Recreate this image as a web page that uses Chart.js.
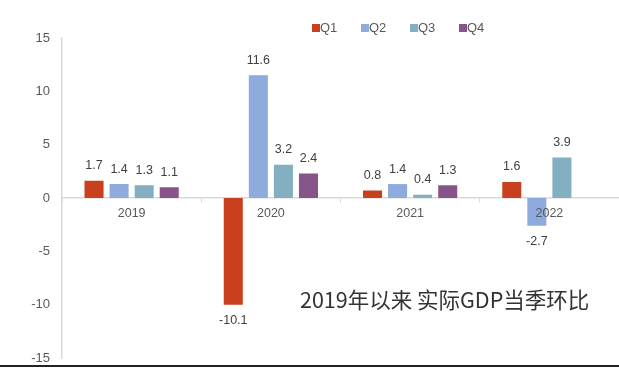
<!DOCTYPE html>
<html>
<head>
<meta charset="utf-8">
<script src="https://cdn.jsdelivr.net/npm/chart.js@4.4.0/dist/chart.umd.min.js"></script>
<style>
  html, body { margin: 0; padding: 0; background: #fff; }
  #wrap { width: 619px; height: 368px; position: relative; }
</style>
</head>
<body>
<div id="wrap"><canvas id="grafico"></canvas></div>
<script>
const anos = ['2019', '2020', '2021', '2022'];
const q1 = [1.7, -10.1, 0.8, 1.6];
const q2 = [1.4, 11.6, 1.4, -2.7];
const q3 = [1.3, 3.2, 0.4, 3.9];
const q4 = [1.1, 2.4, 1.3, null];
const nomesSerie = ['Q1', 'Q2', 'Q3', 'Q4'];
const cores = ['#C8401E', '#8FAADC', '#84AFC1', '#875489'];
const yTicks = [-15, -10, -5, 0, 5, 10, 15];
const titulo = '2019年以来 实际GDP当季环比';

const fonte = '"Liberation Sans", Arial, sans-serif';

// rótulos de valor, legenda e título desenhados à mão
const extras = {
  id: 'extras',
  afterDatasetsDraw(chart) {
    const { ctx } = chart;
    ctx.save();
    ctx.font = '12.5px ' + fonte;
    ctx.fillStyle = '#404040';
    ctx.textAlign = 'center';
    ctx.textBaseline = 'middle';
    chart.data.datasets.forEach((ds, i) => {
      chart.getDatasetMeta(i).data.forEach((bar, j) => {
        const v = ds.data[j];
        if (v === null) return;
        const y = v >= 0 ? bar.y - 14 : bar.y + 15;
        ctx.fillText(v.toFixed(1), bar.x, y);
      });
    });
    ctx.restore();
  },
  afterDraw(chart) {
    const { ctx } = chart;
    ctx.save();
    // legenda
    ctx.font = '13px ' + fonte;
    ctx.textBaseline = 'middle';
    ctx.textAlign = 'left';
    let x = 312;
    chart.data.datasets.forEach((ds) => {
      ctx.fillStyle = ds.backgroundColor;
      ctx.fillRect(x, 24, 8, 8);
      ctx.fillStyle = '#595959';
      ctx.fillText(ds.label, x + 8, 28.5);
      x += 49;
    });
    // título
    ctx.font = '21.5px "Noto Sans CJK SC", sans-serif';
    ctx.fillStyle = '#333333';
    ctx.fillText(titulo, 300, 300);
    // linha preta de baixo
    ctx.fillStyle = '#222';
    ctx.fillRect(0, 365, chart.width, 2);
    ctx.restore();
  }
};

new Chart(document.getElementById('grafico'), {
  type: 'bar',
  data: {
    labels: anos,
    datasets: [q1, q2, q3, q4].map((d, i) => ({
      label: nomesSerie[i],
      data: d,
      backgroundColor: cores[i],
      borderColor: 'rgba(255,255,255,0.5)',
      borderWidth: 1,
      categoryPercentage: 0.72,
      barPercentage: 0.84
    }))
  },
  options: {
    responsive: true,
    maintainAspectRatio: false,
    animation: false,
    layout: { padding: { top: 38, bottom: 10, right: 0 } },
    plugins: {
      legend: { display: false },
      tooltip: { enabled: false }
    },
    scales: {
      x: {
        position: { y: 0 },
        grid: { display: true, offset: true, drawOnChartArea: false, tickLength: 4, color: '#D9D9D9' },
        border: { color: '#D9D9D9', width: 1.5 },
        ticks: { z: 1, color: '#595959', font: { size: 12.5, family: fonte }, padding: 4 }
      },
      y: {
        min: -15,
        max: 15,
        afterFit(axis) { axis.width = 62; axis.paddingTop = 0; axis.paddingBottom = 0; },
        afterBuildTicks(axis) { axis.ticks = yTicks.map(v => ({ value: v })); },
        grid: { display: false },
        border: { color: '#D9D9D9', width: 1.5 },
        ticks: { color: '#595959', font: { size: 13, family: fonte }, padding: 4 }
      }
    }
  },
  plugins: [extras]
});
</script>
</body>
</html>
